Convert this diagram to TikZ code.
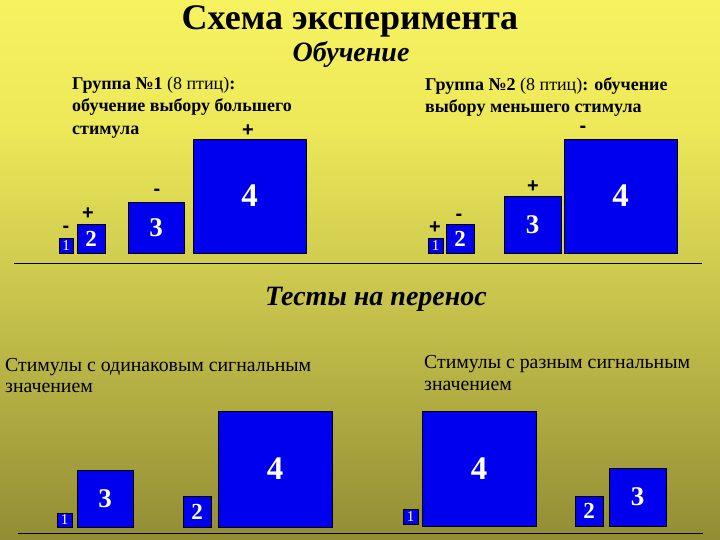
\documentclass[tikz,border=0pt]{standalone}
\usepackage{fontspec}
\setmainfont{Liberation Serif}
\newfontfamily\signfont{Liberation Sans}
\definecolor{bgA}{RGB}{246,242,96}
\definecolor{bgB}{RGB}{236,232,88}
\definecolor{bgC}{RGB}{204,200,78}
\definecolor{bgD}{RGB}{146,141,52}
\definecolor{stimblue}{RGB}{0,0,238}
\begin{document}
\begin{tikzpicture}[x=1pt,y=-1pt,
  box/.style={draw=black, line width=0.8pt, fill=stimblue, inner sep=0pt, text=white},
  nfour/.style={box, font=\bfseries\fontsize{33}{33}\selectfont},
  nthree/.style={box, font=\bfseries\fontsize{27}{27}\selectfont},
  ntwo/.style={box, font=\bfseries\fontsize{23}{23}\selectfont},
  none/.style={box, font=\fontsize{15}{15}\selectfont},
  sign/.style={inner sep=0pt, font=\signfont\bfseries\fontsize{20}{20}\selectfont},
  grp/.style={anchor=base west, inner sep=0pt, font=\fontsize{18}{18}\selectfont},
  tst/.style={anchor=base west, inner sep=0pt, font=\fontsize{19.8}{19.8}\selectfont},
  head/.style={anchor=base, inner sep=0pt, font=\bfseries\itshape\fontsize{28}{28}\selectfont},
  rule/.style={line width=1pt, draw=black}]
\useasboundingbox (0,0) rectangle (720,540);
% background
\shade[top color=bgA, bottom color=bgB] (0,0) rectangle (720,131);
\shade[top color=bgB, bottom color=bgC] (0,130) rectangle (720,281);
\shade[top color=bgC, bottom color=bgD] (0,280) rectangle (720,540);
% titles
\node[anchor=base, inner sep=0pt, font=\bfseries\fontsize{36}{36}\selectfont] (title) at (350,30) {Схема эксперимента};
\node[head] (learn) at (351,62) {Обучение};
\node[head] (tests) at (376,305) {Тесты на перенос};
% group texts
\node[grp] (g1t1) at (72,90) {\textbf{Группа №1} (8 птиц)\textbf{:}};
\node[grp] (g1t2) at (72,112) {\textbf{обучение выбору большего}};
\node[grp] (g1t3) at (72,135) {\textbf{стимула}};
\node[grp] (g2t1) at (425,91) {\textbf{Группа №2} (8 птиц)\textbf{: обучение}};
\node[grp] (g2t2) at (425,113) {\textbf{выбору меньшего стимула}};
\node[tst] (t1a) at (5,371) {Стимулы с одинаковым сигнальным};
\node[tst] (t1b) at (5,392) {значением};
\node[tst] (t2a) at (424,368) {Стимулы с разным сигнальным};
\node[tst] (t2b) at (424,390) {значением};
% group 1 boxes
\node[none, minimum width=14pt, minimum height=15pt] (g1a) at (66,245.5) {1};
\node[ntwo, minimum width=28pt, minimum height=29pt] (g1b) at (91,238.5) {2};
\node[nthree, minimum width=56pt, minimum height=51pt] (g1c) at (156,227.5) {3};
\node[nfour, minimum width=113pt, minimum height=114pt] (g1d) at (249.5,196) {4};
\node[sign] (g1sa) at (66,229) {-};
\node[sign] (g1sb) at (88,214) {+};
\node[sign] (g1sc) at (157,192) {-};
\node[sign] (g1sd) at (248,131) {+};
% group 2 boxes
\node[none, minimum width=15pt, minimum height=15pt] (g2a) at (435.5,245.5) {1};
\node[ntwo, minimum width=28pt, minimum height=29pt] (g2b) at (460,238.5) {2};
\node[nthree, minimum width=57pt, minimum height=57pt] (g2c) at (532.5,224.5) {3};
\node[nfour, minimum width=113pt, minimum height=114pt] (g2d) at (620.5,196) {4};
\node[sign] (g2sa) at (435,228) {+};
\node[sign] (g2sb) at (459,217) {-};
\node[sign] (g2sc) at (533,187) {+};
\node[sign] (g2sd) at (583,129.5) {-};
% rules
\coordinate (r1a) at (14,263);
\coordinate (r1b) at (702,263);
\coordinate (r2a) at (18,533);
\coordinate (r2b) at (703,533);
\draw[rule] (r1a) -- (r1b);
\draw[rule] (r2a) -- (r2b);
% test, same value
\node[none, minimum width=15pt, minimum height=14pt] (t1p) at (64.5,520) {1};
\node[nthree, minimum width=56pt, minimum height=57pt] (t1r) at (105,498.5) {3};
\node[ntwo, minimum width=28pt, minimum height=31pt] (t1q) at (197,511.5) {2};
\node[nfour, minimum width=114pt, minimum height=116pt] (t1s) at (275,469) {4};
% test, different value
\node[none, minimum width=15pt, minimum height=15pt] (t2p) at (410.5,516.5) {1};
\node[nfour, minimum width=114pt, minimum height=115pt] (t2s) at (479,468.5) {4};
\node[ntwo, minimum width=28pt, minimum height=30pt] (t2q) at (589,511) {2};
\node[nthree, minimum width=57pt, minimum height=58pt] (t2r) at (637.5,497) {3};
\end{tikzpicture}
\end{document}
